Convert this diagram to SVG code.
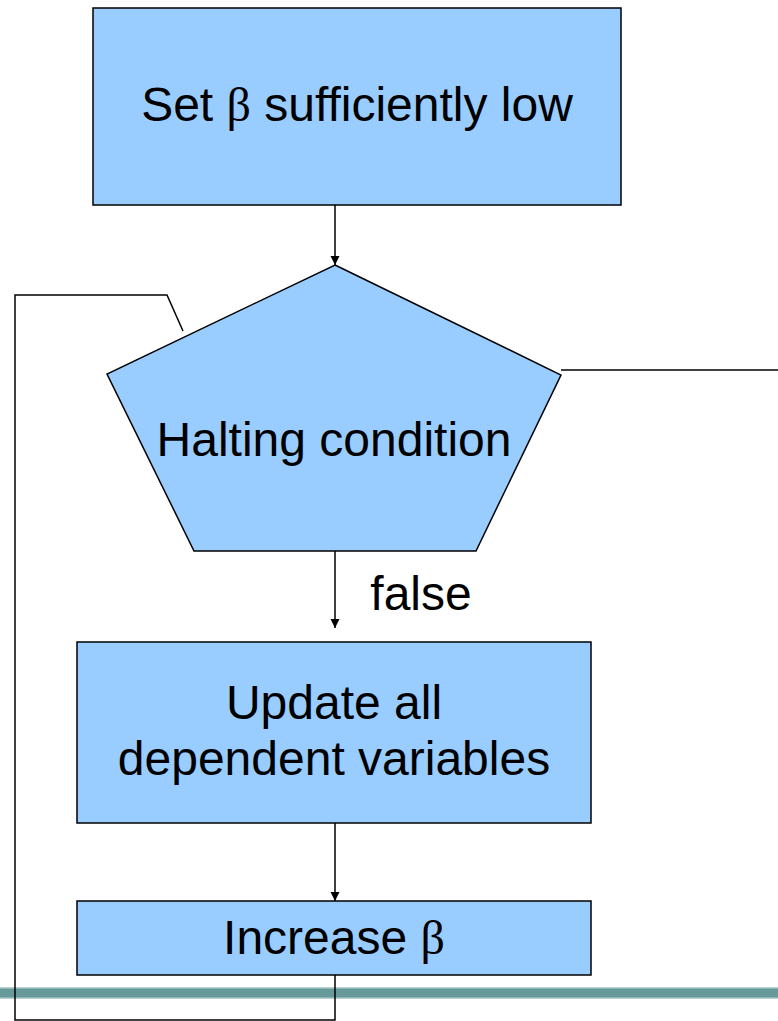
<svg xmlns="http://www.w3.org/2000/svg" width="778" height="1021" viewBox="0 0 778 1021">
<style>
.node{fill:#99CCFF;stroke:#000;stroke-width:1.5}
.lbl{font-family:"Liberation Sans",Arial,sans-serif;font-size:48px;fill:#000;text-anchor:middle}
.greek{font-family:"Liberation Serif","Times New Roman",serif}
.conn{fill:none;stroke:#000;stroke-width:1.5}
</style>
<defs>
<marker id="ah" markerWidth="9" markerHeight="11" refX="9" refY="5.5" orient="auto" markerUnits="userSpaceOnUse" viewBox="0 0 9 11">
<path d="M0,1 L9,5.5 L0,10 Z" fill="#000"/>
</marker>
</defs>
<rect x="0" y="987" width="778" height="12" fill="#b8d0d0"/>
<rect x="0" y="988.5" width="778" height="9" fill="#669999"/>
<g id="connectors">
<line class="conn" x1="335" y1="205" x2="335" y2="265" marker-end="url(#ah)"/>
<line class="conn" x1="335" y1="551" x2="335" y2="628" marker-end="url(#ah)"/>
<line class="conn" x1="335" y1="823" x2="335" y2="901" marker-end="url(#ah)"/>
<path class="conn" d="M183,331 L167,295 L15,295 L15,1020 L335,1020 L335,975"/>
<line class="conn" x1="561" y1="370" x2="778" y2="370"/>
<text class="lbl" x="421" y="610">false</text>
</g>
<g id="set-beta">
<rect class="node" x="93" y="8" width="528" height="197"/>
<text class="lbl" x="357" y="121">Set <tspan class="greek">β</tspan> sufficiently low</text>
</g>
<g id="halting">
<polygon class="node" points="335,265 561,375 476,551 194,551 107,374"/>
<text class="lbl" x="334" y="456">Halting condition</text>
</g>
<g id="update">
<rect class="node" x="77" y="642" width="514" height="181"/>
<text class="lbl" x="334" y="719">Update all</text>
<text class="lbl" x="334" y="775">dependent variables</text>
</g>
<g id="increase">
<rect class="node" x="77" y="901" width="514" height="74"/>
<text class="lbl" x="334" y="954">Increase <tspan class="greek">β</tspan></text>
</g>
</svg>
